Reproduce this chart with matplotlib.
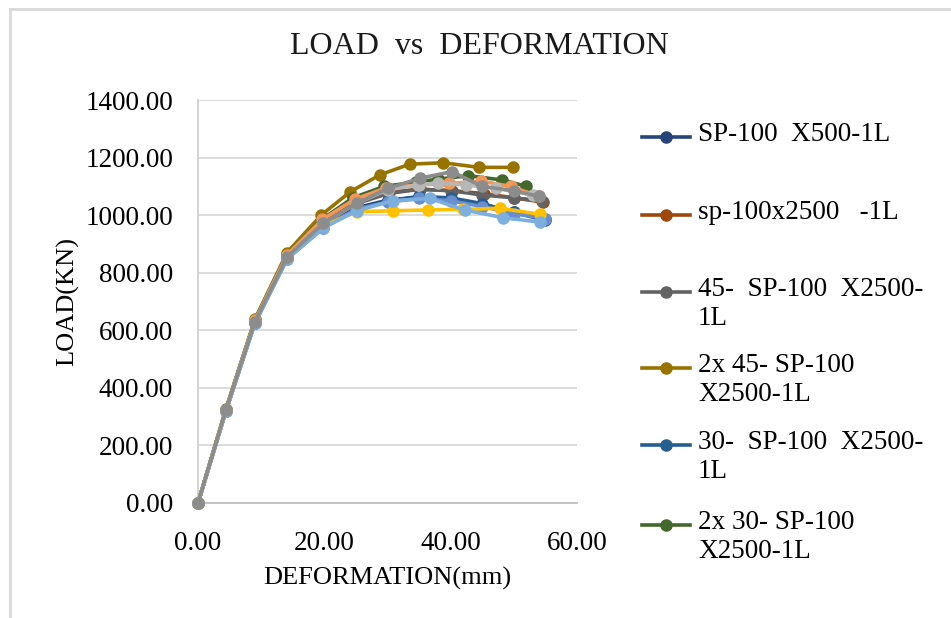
import matplotlib
matplotlib.use("Agg")
import matplotlib.pyplot as plt
from matplotlib.lines import Line2D

plt.rcParams['font.family'] = ['Liberation Serif', 'DejaVu Serif']

# ---- data ----
labels = ["SP-100  X500-1L", "sp-100x2500   -1L", "45-  SP-100  X2500-\n1L",
          "2x 45- SP-100\nX2500-1L", "30-  SP-100  X2500-\n1L", "2x 30- SP-100\nX2500-1L"]

x_s1 = [0, 4.4, 9.0, 14.1, 19.7, 25.0, 30.0, 35.0, 40.0, 45.0, 50.0, 55.0]
y_s1 = [0, 320, 628, 852, 960, 1025, 1052, 1062, 1055, 1035, 1010, 985]
x_s2 = [0, 4.4, 9.0, 14.1, 19.8, 25.1, 30.2, 35.2, 40.2, 45.2, 50.1, 54.6]
y_s2 = [0, 322, 632, 858, 975, 1045, 1080, 1090, 1085, 1075, 1060, 1045]
x_s3 = [0, 4.4, 9.0, 14.1, 19.8, 25.1, 30.1, 35.1, 40.0, 45.0, 50.0, 54.4]
y_s3 = [0, 322, 630, 855, 972, 1040, 1075, 1090, 1085, 1070, 1060, 1050]
x_s4 = [0, 4.4, 9.0, 14.1, 19.5, 24.1, 28.8, 33.5, 38.8, 44.5, 49.9]
y_s4 = [0, 325, 638, 870, 1000, 1081, 1140, 1177, 1182, 1166, 1166]
x_s5 = [0, 4.4, 9.0, 14.1, 19.8, 25.0, 30.0, 35.0, 40.0, 45.0, 50.0, 54.9]
y_s5 = [0, 318, 625, 848, 955, 1020, 1050, 1065, 1060, 1040, 1010, 982]
x_s6 = [0, 4.4, 9.0, 14.1, 19.6, 24.5, 29.5, 34.5, 38.0, 42.8, 48.2, 52.0]
y_s6 = [0, 323, 635, 862, 985, 1060, 1100, 1115, 1125, 1137, 1122, 1100]
x_s7 = [0, 4.4, 9.0, 14.1, 19.8, 25.0, 30.0, 35.0, 40.0, 45.0, 50.0, 55.0]
y_s7 = [0, 318, 626, 850, 958, 1020, 1045, 1058, 1050, 1030, 1005, 988]
x_s8 = [0, 4.4, 9.0, 14.1, 19.7, 24.8, 29.8, 34.8, 39.8, 44.8, 49.5, 54.0]
y_s8 = [0, 322, 634, 862, 985, 1055, 1095, 1105, 1110, 1118, 1100, 1065]
x_s9 = [0, 4.4, 9.0, 14.1, 19.8, 25.0, 30.0, 35.0, 38.0, 42.5, 47.2, 53.0]
y_s9 = [0, 322, 630, 856, 970, 1040, 1088, 1105, 1112, 1105, 1093, 1070]
x_s10 = [0, 4.4, 9.0, 14.1, 19.8, 25.1, 30.8, 36.4, 42.0, 47.8, 54.1]
y_s10 = [0, 320, 628, 852, 962, 1012, 1015, 1018, 1020, 1024, 1003]
x_s11 = [0, 4.4, 9.0, 14.1, 19.8, 25.1, 30.8, 36.7, 42.2, 48.3, 54.1]
y_s11 = [0, 318, 624, 848, 955, 1015, 1050, 1058, 1018, 991, 976]
x_s12 = [0, 4.4, 9.0, 14.1, 19.8, 25.1, 30.1, 35.1, 40.2, 45.0, 50.0, 54.0]
y_s12 = [0, 323, 630, 855, 971, 1041, 1093, 1128, 1151, 1100, 1085, 1065]

series = [(x_s1, y_s1), (x_s2, y_s2), (x_s3, y_s3), (x_s4, y_s4), (x_s5, y_s5),
          (x_s6, y_s6), (x_s7, y_s7), (x_s8, y_s8), (x_s9, y_s9), (x_s10, y_s10),
          (x_s11, y_s11), (x_s12, y_s12)]
colors = ["#264478", "#9E480E", "#636363", "#997300", "#255E91", "#43682B",
          "#698ED0", "#F1975A", "#B7B7B7", "#FFC000", "#7CAFDD", "#8C8C8C"]
y_ticks = [0, 200, 400, 600, 800, 1000, 1200, 1400]
x_ticks = [0, 20, 40, 60]

W, H = 951, 618
fig = plt.figure(figsize=(W / 100, H / 100), dpi=100)
ax = fig.add_axes([198 / W, 1 - 503 / H, (577 - 198) / W, (503 - 100) / H])

lines = []
for (xs, ys), c in zip(series, colors):
    ln, = ax.plot(xs, ys, color=c, lw=2.6, marker='o', ms=8, zorder=3, clip_on=False)
    lines.append(ln)

ax.set_xlim(0, 60)
ax.set_ylim(0, 1400)
ax.set_yticks(y_ticks)
ax.set_yticklabels([f"{v:.2f}" for v in y_ticks])
ax.set_xticks(x_ticks)
ax.set_xticklabels([f"{v:.2f}" for v in x_ticks])
ax.tick_params(axis='both', length=0, labelsize=19.5, colors='#000000')
ax.tick_params(axis='y', pad=18)
ax.tick_params(axis='x', pad=20)
ax.yaxis.grid(True, color='#D9D9D9', lw=1.3)
ax.set_axisbelow(True)
for s in ['top', 'right']:
    ax.spines[s].set_visible(False)
ax.spines['left'].set_color('#D0D0D0')
ax.spines['left'].set_linewidth(1.3)
ax.spines['bottom'].set_color('#BFBFBF')
ax.spines['bottom'].set_linewidth(1.3)

ax.set_xlabel("DEFORMATION(mm)", fontsize=19, labelpad=8)
ax.set_ylabel("LOAD(KN)", fontsize=19, labelpad=4)

fig.text(479 / W, 1 - 47 / H, "LOAD  vs  DEFORMATION", ha='center', va='center',
         fontsize=23, color='#1a1a1a')

# legend (first six series)
leg_y = [137, 215, 292, 368, 445, 525]
for ln, lab, yy in zip(lines[:6], labels, leg_y):
    fy = 1 - yy / H
    fig.add_artist(Line2D([642 / W, 690 / W], [fy, fy], color=ln.get_color(), lw=2.6,
                          transform=fig.transFigure))
    fig.add_artist(Line2D([666 / W], [fy], color=ln.get_color(), marker='o', ms=8,
                          transform=fig.transFigure))
    fig.text(698 / W, fy + 15 / H, lab, ha='left', va='top', fontsize=19.5,
             linespacing=1.2, transform=fig.transFigure)

# chart-area frame
fig.add_artist(Line2D([10 / W, 1], [1 - 9 / H, 1 - 9 / H], color='#D9D9D9', lw=2,
                      transform=fig.transFigure))
fig.add_artist(Line2D([10 / W, 10 / W], [0, 1 - 9 / H], color='#D9D9D9', lw=2,
                      transform=fig.transFigure))

fig.savefig("out.png", dpi=100, facecolor='white')
